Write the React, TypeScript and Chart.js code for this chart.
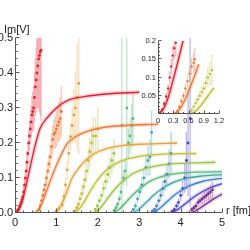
import React, { useEffect, useRef } from "react";
import { Chart, registerables } from "chart.js";
Chart.register(...registerables);

// ---------------- axes / ticks ----------------
const X_TICKS = [0, 1, 2, 3, 4, 5];
const Y_TICKS = [0, 0.1, 0.2, 0.3, 0.4, 0.5];
const INSET_X_TICKS = [0, 0.3, 0.6, 0.9, 1.2];
const INSET_Y_TICKS = [0.05, 0.1, 0.15, 0.2];

// ---------------- families (shift in fm along r) ----------------
const SHIFTS = [0, 0.46, 0.92, 1.38, 1.84, 2.3, 2.76, 3.22, 3.68, 4.14];
const LINE_COLORS = ["#e3202b", "#f07a32", "#e4a23a", "#c4be2e", "#9cc43c", "#5cb87a", "#3fa6a6", "#3f7fcf", "#4a3fd0", "#7a2a8a"];
const BAR_COLORS = [
  "rgba(232,80,90,0.45)", "rgba(240,140,90,0.45)", "rgba(235,185,100,0.45)", "rgba(205,200,110,0.5)",
  "rgba(170,205,110,0.5)", "rgba(120,195,145,0.5)", "rgba(110,185,190,0.5)", "rgba(100,150,215,0.5)",
  "rgba(110,100,220,0.5)", "rgba(140,60,150,0.5)",
];

// ---------------- data points (r relative to family shift) ----------------
const RED_DR = [0.03, 0.05, 0.07, 0.09, 0.11, 0.13, 0.15, 0.17, 0.19, 0.21, 0.23, 0.25, 0.27, 0.29, 0.31, 0.33, 0.35, 0.37, 0.39, 0.41, 0.43, 0.45, 0.47, 0.49, 0.51, 0.53, 0.55, 0.57, 0.59, 0.61, 0.63];
const RED_V = [0.002, 0.004, 0.008, 0.012, 0.018, 0.024, 0.03, 0.038, 0.046, 0.06, 0.08, 0.1, 0.12, 0.145, 0.17, 0.2, 0.22, 0.24, 0.26, 0.28, 0.29, 0.3, 0.33, 0.36, 0.38, 0.4, 0.42, 0.44, 0.45, 0.46, 0.465];
const RED_E = [0.002, 0.003, 0.004, 0.005, 0.006, 0.008, 0.01, 0.012, 0.014, 0.016, 0.018, 0.02, 0.025, 0.03, 0.03, 0.035, 0.04, 0.04, 0.045, 0.05, 0.055, 0.06, 0.07, 0.08, 0.09, 0.1, 0.12, 0.14, 0.16, 0.18, 0.2];

const ORANGE_DR = [0.12, 0.15, 0.18, 0.21, 0.24, 0.27, 0.3, 0.33, 0.36, 0.39, 0.42, 0.45, 0.48, 0.51, 0.54, 0.57, 0.6, 0.63, 0.66];
const ORANGE_V = [0.01, 0.02, 0.035, 0.05, 0.066, 0.08, 0.1, 0.12, 0.14, 0.16, 0.19, 0.21, 0.225, 0.23, 0.24, 0.25, 0.26, 0.27, 0.29];
const ORANGE_E = [0.005, 0.007, 0.01, 0.012, 0.015, 0.018, 0.02, 0.022, 0.025, 0.03, 0.035, 0.04, 0.04, 0.045, 0.05, 0.05, 0.055, 0.06, 0.07];

const GOLD_DR = [0.08, 0.14, 0.22, 0.26, 0.3, 0.34, 0.38, 0.42, 0.46, 0.5, 0.54, 0.58, 0.62];
const GOLD_V = [0.005, 0.012, 0.023, 0.047, 0.08, 0.123, 0.17, 0.218, 0.25, 0.28, 0.3, 0.33, 0.37];
const GOLD_E = [0.003, 0.005, 0.01, 0.015, 0.02, 0.025, 0.03, 0.04, 0.05, 0.07, 0.1, 0.15, 0.2];

const OLIVE_DR = [0.07, 0.11, 0.15, 0.19, 0.23, 0.27, 0.31, 0.35, 0.39, 0.43, 0.47, 0.51, 0.57, 0.62];
const OLIVE_V = [0.006, 0.015, 0.025, 0.04, 0.055, 0.075, 0.095, 0.12, 0.15, 0.175, 0.2, 0.22, 0.22, 0.24];
const OLIVE_E = [0.003, 0.005, 0.008, 0.01, 0.015, 0.02, 0.025, 0.03, 0.035, 0.04, 0.045, 0.05, 0.05, 0.06];

const YG_DR = [0.1, 0.15, 0.2, 0.25, 0.3, 0.35, 0.4, 0.45, 0.5, 0.55];
const YG_V = [0.01, 0.02, 0.035, 0.05, 0.07, 0.09, 0.11, 0.13, 0.15, 0.17];
const YG_E = [0.004, 0.006, 0.008, 0.012, 0.016, 0.02, 0.025, 0.03, 0.035, 0.04];

const GREEN_DR = [0.1, 0.14, 0.18, 0.22, 0.26, 0.28, 0.32, 0.36, 0.4, 0.44, 0.48, 0.52, 0.55];
const GREEN_V = [0.008, 0.015, 0.025, 0.04, 0.06, 0.25, 0.1, 0.12, 0.3, 0.2, 0.22, 0.25, 0.27];
const GREEN_E = [0.004, 0.006, 0.008, 0.01, 0.015, 0.25, 0.02, 0.03, 0.22, 0.04, 0.05, 0.06, 0.07];

const TEAL_DR = [0.1, 0.15, 0.2, 0.25, 0.3, 0.35, 0.4, 0.45, 0.5, 0.54];
const TEAL_V = [0.01, 0.02, 0.04, 0.06, 0.08, 0.1, 0.13, 0.15, 0.16, 0.23];
const TEAL_E = [0.005, 0.008, 0.012, 0.015, 0.02, 0.025, 0.03, 0.04, 0.05, 0.06];

const STEEL_DR = [0.1, 0.15, 0.2, 0.25, 0.3, 0.35, 0.4, 0.45, 0.5, 0.55];
const STEEL_V = [0.005, 0.01, 0.02, 0.035, 0.05, 0.07, 0.09, 0.11, 0.14, 0.17];
const STEEL_E = [0.003, 0.005, 0.008, 0.01, 0.015, 0.02, 0.025, 0.03, 0.04, 0.06];

const INDIGO_DR = [0.12, 0.17, 0.22, 0.27, 0.32, 0.37, 0.42, 0.46, 0.5, 0.55];
const INDIGO_V = [0.005, 0.01, 0.02, 0.03, 0.05, 0.07, 0.1, 0.15, 0.2, 0.27];
const INDIGO_E = [0.003, 0.005, 0.008, 0.01, 0.015, 0.02, 0.04, 0.08, 0.15, 0.25];

const PURPLE_DR = [0.13, 0.18, 0.23, 0.28, 0.33, 0.38, 0.43, 0.48, 0.53, 0.58, 0.63];
const PURPLE_V = [0.01, 0.015, 0.02, 0.03, 0.035, 0.04, 0.045, 0.05, 0.055, 0.06, 0.066];
const PURPLE_E = [0.005, 0.006, 0.008, 0.01, 0.01, 0.012, 0.014, 0.015, 0.016, 0.018, 0.02];

// ---------------- fitted curves (r relative to family shift) ----------------
const CURVE_DR = [0, 0.1, 0.2, 0.3, 0.45, 0.6, 0.8, 1.0, 1.3, 1.7, 2.2, 3.0];
const CURVE_RED = [0, 0.012, 0.045, 0.095, 0.175, 0.24, 0.275, 0.3, 0.323, 0.333, 0.34, 0.345];
const CURVE_ORANGE = [0, 0.008, 0.03, 0.062, 0.11, 0.152, 0.198, 0.218, 0.234, 0.245, 0.25, 0.254];
const CURVE_GOLD = [0, 0.006, 0.024, 0.05, 0.098, 0.125, 0.152, 0.17, 0.184, 0.193, 0.197, 0.2];
const CURVE_OLIVE = [0, 0.004, 0.016, 0.034, 0.065, 0.092, 0.12, 0.138, 0.153, 0.163, 0.168, 0.17];
const CURVE_YG = [0, 0.003, 0.012, 0.026, 0.05, 0.072, 0.095, 0.112, 0.127, 0.137, 0.142, 0.145];
const CURVE_GREEN = [0, 0.002, 0.009, 0.02, 0.04, 0.058, 0.078, 0.093, 0.106, 0.114, 0.117, 0.119];
const CURVE_TEAL = [0, 0.002, 0.008, 0.018, 0.035, 0.052, 0.07, 0.084, 0.097, 0.105, 0.109, 0.111];
const CURVE_STEEL = [0, 0.002, 0.007, 0.016, 0.032, 0.048, 0.065, 0.078, 0.09, 0.098, 0.103, 0.106];
const CURVE_INDIGO = [0, 0.0015, 0.006, 0.014, 0.028, 0.042, 0.058, 0.07, 0.083, 0.092, 0.098, 0.1];
const CURVE_PURPLE = [0, 0.001, 0.005, 0.012, 0.024, 0.036, 0.05, 0.061, 0.072, 0.08, 0.085, 0.088];

// ---------------- inset (three families, shifts 0 / 0.3 / 0.6) ----------------
const INSET_SHIFTS = [0, 0.3, 0.6];
const INSET_FAMILY = [0, 1, 3];
const INSET_CURVE_DR = [0, 0.1, 0.2, 0.3, 0.4, 0.5];
const INSET_CURVE_RED = [0, 0.012, 0.045, 0.095, 0.148, 0.205];
const INSET_CURVE_ORANGE = [0, 0.008, 0.03, 0.062, 0.097, 0.136];
const INSET_CURVE_OLIVE = [0, 0.004, 0.016, 0.034, 0.053, 0.072];

const INSET_RED_DR = [0.04, 0.08, 0.12, 0.16, 0.2, 0.23, 0.26, 0.29, 0.32, 0.35];
const INSET_RED_V = [0.004, 0.012, 0.028, 0.048, 0.07, 0.1, 0.13, 0.16, 0.18, 0.195];
const INSET_RED_E = [0.003, 0.004, 0.006, 0.008, 0.01, 0.015, 0.02, 0.025, 0.03, 0.035];
const INSET_ORANGE_DR = [0.08, 0.12, 0.16, 0.2, 0.24, 0.28, 0.32, 0.36, 0.4, 0.42];
const INSET_ORANGE_V = [0.008, 0.02, 0.035, 0.05, 0.07, 0.09, 0.11, 0.13, 0.14, 0.15];
const INSET_ORANGE_E = [0.004, 0.005, 0.007, 0.009, 0.012, 0.015, 0.018, 0.022, 0.026, 0.03];
const INSET_OLIVE_DR = [0.06, 0.1, 0.14, 0.18, 0.22, 0.26, 0.3, 0.34, 0.38, 0.42, 0.46];
const INSET_OLIVE_V = [0.01, 0.02, 0.03, 0.04, 0.05, 0.06, 0.07, 0.085, 0.1, 0.11, 0.12];
const INSET_OLIVE_E = [0.004, 0.005, 0.007, 0.009, 0.011, 0.014, 0.017, 0.02, 0.025, 0.03, 0.04];

const FAMILY_POINTS: [number[], number[], number[]][] = [
  [RED_DR, RED_V, RED_E], [ORANGE_DR, ORANGE_V, ORANGE_E], [GOLD_DR, GOLD_V, GOLD_E],
  [OLIVE_DR, OLIVE_V, OLIVE_E], [YG_DR, YG_V, YG_E], [GREEN_DR, GREEN_V, GREEN_E],
  [TEAL_DR, TEAL_V, TEAL_E], [STEEL_DR, STEEL_V, STEEL_E], [INDIGO_DR, INDIGO_V, INDIGO_E],
  [PURPLE_DR, PURPLE_V, PURPLE_E],
];
const FAMILY_CURVES = [CURVE_RED, CURVE_ORANGE, CURVE_GOLD, CURVE_OLIVE, CURVE_YG, CURVE_GREEN, CURVE_TEAL, CURVE_STEEL, CURVE_INDIGO, CURVE_PURPLE];
const INSET_POINTS: [number[], number[], number[]][] = [
  [INSET_RED_DR, INSET_RED_V, INSET_RED_E], [INSET_ORANGE_DR, INSET_ORANGE_V, INSET_ORANGE_E], [INSET_OLIVE_DR, INSET_OLIVE_V, INSET_OLIVE_E],
];
const INSET_CURVES = [INSET_CURVE_RED, INSET_CURVE_ORANGE, INSET_CURVE_OLIVE];

// ---------------- helpers ----------------
type P = { x: number; y: number | null };
function barsData(shift: number, dr: number[], v: number[], e: number[], cap: number): P[] {
  const out: P[] = [];
  dr.forEach((r, i) => {
    const x = shift + r, lo = v[i] - e[i], hi = v[i] + e[i];
    out.push({ x, y: lo }, { x, y: hi }, { x, y: null });
    out.push({ x: x - cap, y: hi }, { x: x + cap, y: hi }, { x, y: null });
    out.push({ x: x - cap, y: lo }, { x: x + cap, y: lo }, { x, y: null });
  });
  return out;
}
function pointsData(shift: number, dr: number[], v: number[]): P[] {
  return dr.map((r, i) => ({ x: shift + r, y: v[i] }));
}
function curveData(shift: number, dr: number[], v: number[]): P[] {
  return dr.map((r, i) => ({ x: shift + r, y: v[i] }));
}
function buildDatasets(
  shifts: number[], fams: number[], pts: [number[], number[], number[]][], curves: number[][],
  cDr: number[], dotR: number, barW: number, lineW: number, cap: number
) {
  const curvesDs: any[] = [];
  const pointDs: any[] = [];
  const barDs: any[] = [];
  fams.forEach((f, k) => {
    const s = shifts[k];
    const [dr, v, e] = pts[k];
    const col = LINE_COLORS[f];
    curvesDs.push({
      data: curveData(s, cDr, curves[k]), borderColor: col, borderWidth: lineW,
      pointRadius: 0, cubicInterpolationMode: "monotone", fill: false,
    });
    barDs.push({
      data: curveData(s, cDr, curves[k]), borderColor: BAR_COLORS[f].replace(/[\d.]+\)$/, "0.25)"),
      borderWidth: lineW + 3, pointRadius: 0, cubicInterpolationMode: "monotone", fill: false,
    });
    pointDs.push({
      data: pointsData(s, dr, v), showLine: false, pointRadius: dotR, pointBorderWidth: 0,
      pointBackgroundColor: col, backgroundColor: col,
    });
    barDs.push({
      data: barsData(s, dr, v, e, cap), borderColor: BAR_COLORS[f], borderWidth: barW,
      pointRadius: 0, spanGaps: false, fill: false,
    });
  });
  return [...curvesDs, ...pointDs, ...barDs];
}

// ---------------- axes plugin ----------------
const sciAxes = {
  id: "sciAxes",
  afterDatasetsDraw(chart: any, _a: any, o: any) {
    const { ctx, chartArea: a, scales } = chart;
    const xs = scales.x, ys = scales.y;
    ctx.save();
    ctx.strokeStyle = o.color;
    ctx.lineWidth = 1;
    const xl = Math.round(a.left) + 0.5;
    const yb = Math.round(a.bottom) - 0.5;
    ctx.beginPath();
    ctx.moveTo(xl, a.top);
    ctx.lineTo(xl, yb);
    ctx.lineTo(a.right, yb);
    for (let v = xs.min; v <= xs.max + 1e-9; v += o.xMinor) {
      const px = Math.round(xs.getPixelForValue(v)) + 0.5;
      const major = Math.abs(v / o.xMajor - Math.round(v / o.xMajor)) < 1e-6;
      ctx.moveTo(px, yb);
      ctx.lineTo(px, yb - (major ? o.majorLen : o.minorLen));
    }
    for (let v = ys.min; v <= ys.max + 1e-9; v += o.yMinor) {
      const py = Math.round(ys.getPixelForValue(v)) - 0.5;
      const major = Math.abs(v / o.yMajor - Math.round(v / o.yMajor)) < 1e-6;
      ctx.moveTo(xl, py);
      ctx.lineTo(xl + (major ? o.majorLen : o.minorLen), py);
    }
    ctx.stroke();
    if (o.yTitle) {
      ctx.fillStyle = "#222";
      ctx.font = o.titleFont;
      ctx.textBaseline = "middle";
      ctx.textAlign = "left";
      ctx.fillText(o.yTitle, o.yTitlePos[0], o.yTitlePos[1]);
      ctx.fillText(o.xTitle, o.xTitlePos[0], o.xTitlePos[1]);
    }
    ctx.restore();
  },
};

const FONT = "Liberation Sans";

function mainConfig(): any {
  return {
    type: "line",
    data: {
      datasets: buildDatasets(SHIFTS, SHIFTS.map((_, i) => i), FAMILY_POINTS, FAMILY_CURVES, CURVE_DR, 1.4, 1.2, 1.3, 0.018),
    },
    options: {
      animation: false,
      responsive: false,
      events: [],
      layout: { padding: { left: 0, top: 38, right: 28, bottom: 0 } },
      plugins: {
        legend: { display: false },
        tooltip: { enabled: false },
        sciAxes: {
          color: "#555", xMajor: 1, xMinor: 0.2, yMajor: 0.1, yMinor: 0.02, majorLen: 4, minorLen: 2,
          yTitle: "Im[V]", xTitle: "r [fm]", titleFont: `11px "${FONT}"`, yTitlePos: [4, 30], xTitlePos: [226, 211],
        },
      },
      scales: {
        x: {
          type: "linear", min: 0, max: 5,
          afterFit: (s: any) => { s.height = 37; },
          afterBuildTicks: (s: any) => { s.ticks = X_TICKS.map((v) => ({ value: v })); },
          grid: { display: false, drawTicks: false }, border: { display: false },
          ticks: { padding: 3, maxRotation: 0, autoSkip: false, color: "#222", font: { family: FONT, size: 11 }, callback: (v: number) => String(v) },
        },
        y: {
          type: "linear", min: 0, max: 0.5,
          afterFit: (s: any) => { s.width = 15; },
          afterBuildTicks: (s: any) => { s.ticks = Y_TICKS.map((v) => ({ value: v })); },
          grid: { display: false, drawTicks: false }, border: { display: false },
          ticks: { padding: 2, autoSkip: false, color: "#222", font: { family: FONT, size: 11 }, callback: (v: number) => Number(v).toFixed(1) },
        },
      },
    },
    plugins: [sciAxes],
  };
}

function insetConfig(): any {
  return {
    type: "line",
    data: {
      datasets: buildDatasets(INSET_SHIFTS, INSET_FAMILY, INSET_POINTS, INSET_CURVES, INSET_CURVE_DR, 1.2, 1.1, 1.4, 0.015),
    },
    options: {
      animation: false,
      responsive: false,
      events: [],
      layout: { padding: { left: 0, top: 11, right: 31, bottom: 0 } },
      plugins: {
        legend: { display: false },
        tooltip: { enabled: false },
        sciAxes: { color: "#555", xMajor: 0.3, xMinor: 0.1, yMajor: 0.05, yMinor: 0.01, majorLen: 3, minorLen: 1.5 },
      },
      scales: {
        x: {
          type: "linear", min: 0, max: 1.2,
          afterFit: (s: any) => { s.height = 16; },
          afterBuildTicks: (s: any) => { s.ticks = INSET_X_TICKS.map((v) => ({ value: v })); },
          grid: { display: false, drawTicks: false }, border: { display: false },
          ticks: { padding: 2, maxRotation: 0, autoSkip: false, color: "#222", font: { family: FONT, size: 7.5 }, callback: (v: number) => String(Number(Number(v).toFixed(1))) },
        },
        y: {
          type: "linear", min: 0, max: 0.2,
          afterFit: (s: any) => { s.width = 33; },
          afterBuildTicks: (s: any) => { s.ticks = INSET_Y_TICKS.map((v) => ({ value: v })); },
          grid: { display: false, drawTicks: false }, border: { display: false },
          ticks: { padding: 2, autoSkip: false, color: "#222", font: { family: FONT, size: 7.5 }, callback: (v: number) => String(Number(Number(v).toFixed(2))) },
        },
      },
    },
    plugins: [sciAxes],
  };
}

export default function App() {
  const mainRef = useRef<HTMLCanvasElement>(null);
  const insetRef = useRef<HTMLCanvasElement>(null);
  useEffect(() => {
    const main = new Chart(mainRef.current as HTMLCanvasElement, mainConfig());
    const inset = new Chart(insetRef.current as HTMLCanvasElement, insetConfig());
    return () => {
      main.destroy();
      inset.destroy();
    };
  }, []);
  return (
    <div style={{ position: "fixed", left: 0, top: 0, width: 250, height: 250, background: "#fff" }}>
      <canvas ref={mainRef} width={250} height={250} style={{ position: "absolute", left: 0, top: 0, width: 250, height: 250 }} />
      <canvas ref={insetRef} width={125} height={100} style={{ position: "absolute", left: 125, top: 30, width: 125, height: 100 }} />
    </div>
  );
}
